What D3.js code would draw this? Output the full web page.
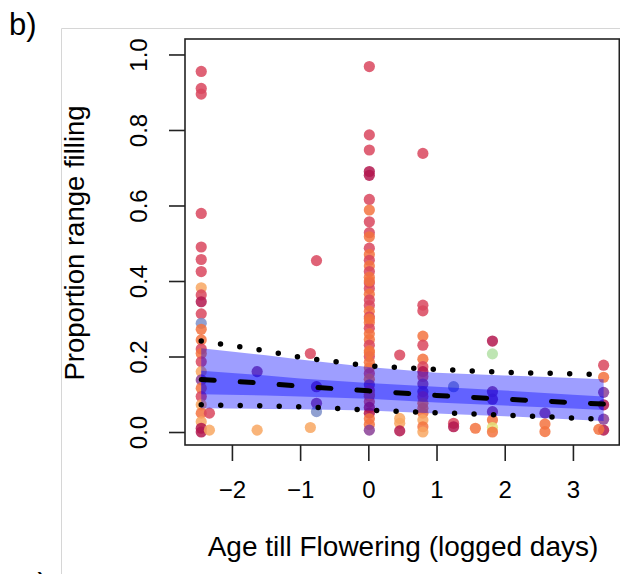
<!DOCTYPE html>
<html>
<head>
<meta charset="utf-8">
<script src="https://cdn.jsdelivr.net/npm/d3@7"></script>
<style>
  body { margin: 0; background: #fff; }
  text { font-family: "Liberation Sans", Arial, sans-serif; }
</style>
</head>
<body>
<svg id="canvas"></svg>
<script>
const WIDTH = 620;
const HEIGHT = 574;

// fitted curve and intervals, read at these x positions
const bandX = [-2.45, -1.5, -1, 0, 1, 2, 3, 3.45];
const outerHi = [0.222, 0.203, 0.192, 0.172, 0.157, 0.15, 0.143, 0.14];
const outerLo = [0.063, 0.061, 0.06, 0.057, 0.049, 0.042, 0.033, 0.029];
const innerHi = [0.162, 0.15, 0.142, 0.13, 0.12, 0.11, 0.099, 0.094];
const innerLo = [0.1, 0.097, 0.094, 0.088, 0.078, 0.07, 0.062, 0.058];
const fitMean = [0.139, 0.129, 0.121, 0.109, 0.097, 0.087, 0.078, 0.074];
const fitUpper = [0.241, 0.215, 0.198, 0.175, 0.166, 0.158, 0.154, 0.152];
const fitLower = [0.072, 0.069, 0.067, 0.058, 0.051, 0.045, 0.037, 0.034];

// observed points: x, y, colour group
const ptX = [
  -2.45, -2.45, -2.45, -2.45, -2.45, -2.45, -2.45, -2.45, -2.45, -2.45,
  -2.45, -2.45, -2.45, -2.45, -2.45, -2.45, -2.45, -2.45, -2.45, -2.45,
  -2.45, -2.45, -2.45, -2.45, -2.45, -2.45,
  -2.33, -2.33, -1.63, -1.63, -0.85, -0.85, -0.76, -0.76, -0.76, -0.76,
  0.015, 0.015, 0.015, 0.015, 0.015, 0.015, 0.015, 0.015, 0.015, 0.015,
  0.015, 0.015, 0.015, 0.015, 0.015, 0.015, 0.015, 0.015, 0.015, 0.015,
  0.015, 0.015, 0.015, 0.015, 0.015, 0.015, 0.015, 0.015, 0.015, 0.015,
  0.015, 0.015, 0.015, 0.015, 0.015, 0.015, 0.015, 0.015, 0.015, 0.015,
  0.015, 0.015, 0.015, 0.015, 0.015, 0.015, 0.015,
  0.46, 0.46, 0.46, 0.46,
  0.8, 0.8, 0.8, 0.8, 0.8, 0.8, 0.8, 0.8, 0.8, 0.8,
  0.8, 0.8, 0.8, 0.8, 0.8, 0.8, 0.8, 0.8,
  1.25, 1.25, 1.25, 1.57,
  1.82, 1.82, 1.82, 1.82, 1.82, 1.82, 1.82, 1.82,
  2.59, 2.59, 2.59,
  3.45, 3.45, 3.45, 3.45, 3.45, 3.45, 3.38
];
const ptY = [
  0.955, 0.91, 0.895, 0.579, 0.49, 0.457, 0.425, 0.382, 0.363, 0.345,
  0.313, 0.288, 0.272, 0.244, 0.22, 0.208, 0.186, 0.16, 0.138, 0.116,
  0.094, 0.072, 0.05, 0.027, 0.01, 0.0,
  0.05, 0.005, 0.16, 0.005, 0.208, 0.012, 0.454, 0.12, 0.076, 0.054,
  0.968, 0.787, 0.747, 0.69, 0.68, 0.616, 0.588, 0.557, 0.528, 0.517,
  0.487, 0.47, 0.455, 0.44, 0.425, 0.41, 0.395, 0.38, 0.365, 0.35,
  0.335, 0.32, 0.305, 0.29, 0.275, 0.26, 0.245, 0.23, 0.215, 0.2,
  0.185, 0.17, 0.155, 0.14, 0.125, 0.11, 0.095, 0.08, 0.065, 0.05,
  0.035, 0.02, 0.005, 0.4, 0.3, 0.21, 0.1,
  0.204, 0.036, 0.023, 0.003,
  0.738, 0.336, 0.321, 0.254, 0.23, 0.193, 0.173, 0.16, 0.147, 0.127,
  0.107, 0.094, 0.076, 0.063, 0.05, 0.032, 0.014, 0.0,
  0.12, 0.023, 0.014, 0.01,
  0.241, 0.207, 0.107, 0.087, 0.054, 0.032, 0.012, 0.0,
  0.05, 0.021, 0.001,
  0.177, 0.145, 0.105, 0.072, 0.034, 0.005, 0.007
];
const ptGroup = [
  "red", "red", "red", "red", "red", "red", "red", "ltorange", "red", "crimson",
  "red", "slate", "orange", "orange", "red", "orange", "red", "ltorange", "purple", "orange",
  "red", "ltorange", "orange", "ltorange", "crimson", "crimson",
  "red", "ltorange", "purple", "ltorange", "red", "ltorange", "red", "purple", "purple", "slate",
  "red", "red", "red", "crimson", "crimson", "red", "orange", "red", "red", "orange",
  "red", "orange", "red", "orange", "red", "orange", "red", "red", "orange", "red",
  "red", "orange", "red", "orange", "red", "orange", "orange", "red", "orange", "red",
  "orange", "orange", "red", "orange", "purple", "red", "orange", "red", "crimson", "crimson",
  "orange", "orange", "purple", "orange", "orange", "orange", "orange",
  "red", "ltorange", "ltorange", "crimson",
  "red", "red", "red", "orange", "red", "orange", "red", "crimson", "red", "purple",
  "purple", "red", "orange", "orange", "orange", "ltorange", "orange", "ltorange",
  "slate", "red", "crimson", "orange",
  "crimson", "green", "purple", "purple", "purple", "orange", "yellow", "orange",
  "purple", "orange", "orange",
  "red", "orange", "purple", "crimson", "purple", "crimson", "orange"
];

const groupColor = {
  red: "#d9465e",
  orange: "#f3733f",
  ltorange: "#f8a761",
  crimson: "#b3174f",
  purple: "#8a3f96",
  slate: "#7d8fc9",
  green: "#b3e0a6",
  yellow: "#e3e27a"
};

const xTicks = [-2, -1, 0, 1, 2, 3];
const yTicks = [0, 0.2, 0.4, 0.6, 0.8, 1.0];

const canvas = d3.select("#canvas").attr("width", WIDTH).attr("height", HEIGHT);

const xScale = d3.scaleLinear().domain([-2.688, 3.68]).range([185, 619.3]);
const yScale = d3.scaleLinear().domain([-0.0344, 1.041]).range([445, 39]);

// outer panel frame
canvas.append("path")
  .attr("d", "M61.5,574 V28.5 H620")
  .attr("fill", "none")
  .attr("stroke", "#d6d6d6")
  .attr("stroke-width", 1);

canvas.append("text")
  .attr("x", 9).attr("y", 35)
  .attr("font-size", 31)
  .text("b)");
canvas.append("text")
  .attr("x", 22).attr("y", 595)
  .attr("font-size", 31)
  .text("c)");

const points = ptX.map((x, i) => ({ x: x, y: ptY[i], g: ptGroup[i] }));

canvas.append("g")
  .selectAll("circle")
  .data(points)
  .enter()
  .append("circle")
  .attr("cx", (d) => xScale(d.x))
  .attr("cy", (d) => yScale(d.y))
  .attr("r", 5.6)
  .attr("fill", (d) => groupColor[d.g])
  .attr("fill-opacity", 0.85);

const band = (lo, hi) =>
  d3.area()
    .x((d, i) => xScale(bandX[i]))
    .y0((d, i) => yScale(lo[i]))
    .y1((d, i) => yScale(hi[i]))(bandX);

canvas.append("path")
  .attr("d", band(outerLo, outerHi))
  .attr("fill", "#0000ff")
  .attr("fill-opacity", 0.38);
canvas.append("path")
  .attr("d", band(innerLo, innerHi))
  .attr("fill", "#0000ff")
  .attr("fill-opacity", 0.38);

const line = (vals) =>
  d3.line()
    .x((d, i) => xScale(bandX[i]))
    .y((d, i) => yScale(vals[i]))(bandX);

canvas.append("path")
  .attr("d", line(fitMean))
  .attr("fill", "none")
  .attr("stroke", "#000")
  .attr("stroke-width", 5)
  .attr("stroke-linecap", "round")
  .attr("stroke-dasharray", "13 26");

[fitUpper, fitLower].forEach((vals) => {
  canvas.append("path")
    .attr("d", line(vals))
    .attr("fill", "none")
    .attr("stroke", "#000")
    .attr("stroke-width", 5.5)
    .attr("stroke-linecap", "round")
    .attr("stroke-dasharray", "0 19.5");
});

// plot box
canvas.append("rect")
  .attr("x", 185).attr("y", 39)
  .attr("width", 619.3 - 185).attr("height", 445 - 39)
  .attr("fill", "none")
  .attr("stroke", "#222")
  .attr("stroke-width", 1.6);

const xAxis = d3.axisBottom(xScale).tickValues(xTicks).tickSize(16).tickPadding(20)
  .tickSizeOuter(0).tickFormat(d3.format("d"));
const gx = canvas.append("g")
  .attr("transform", "translate(0, 445)")
  .call(xAxis);
gx.select(".domain").remove();
gx.selectAll("line").attr("stroke", "#222").attr("stroke-width", 1.6);
gx.selectAll("text").attr("font-size", 24).attr("fill", "#000")
  .attr("font-family", "Liberation Sans, Arial, sans-serif");

const yAxis = d3.axisLeft(yScale).tickValues(yTicks).tickSize(16).tickFormat(d3.format(".1f"));
const gy = canvas.append("g")
  .attr("transform", "translate(185, 0)")
  .call(yAxis);
gy.select(".domain").remove();
gy.selectAll("line").attr("stroke", "#222").attr("stroke-width", 1.6);
gy.selectAll("text")
  .attr("font-size", 24).attr("fill", "#000")
  .attr("font-family", "Liberation Sans, Arial, sans-serif")
  .attr("x", null).attr("dy", null)
  .attr("text-anchor", "middle")
  .attr("transform", "translate(-38, 0) rotate(-90)");

canvas.append("text")
  .attr("transform", "translate(84, 243) rotate(-90)")
  .attr("text-anchor", "middle")
  .attr("font-size", 27.5)
  .text("Proportion range filling");

canvas.append("text")
  .attr("x", 403).attr("y", 556)
  .attr("text-anchor", "middle")
  .attr("font-size", 28)
  .text("Age till Flowering (logged days)");
</script>
</body>
</html>
